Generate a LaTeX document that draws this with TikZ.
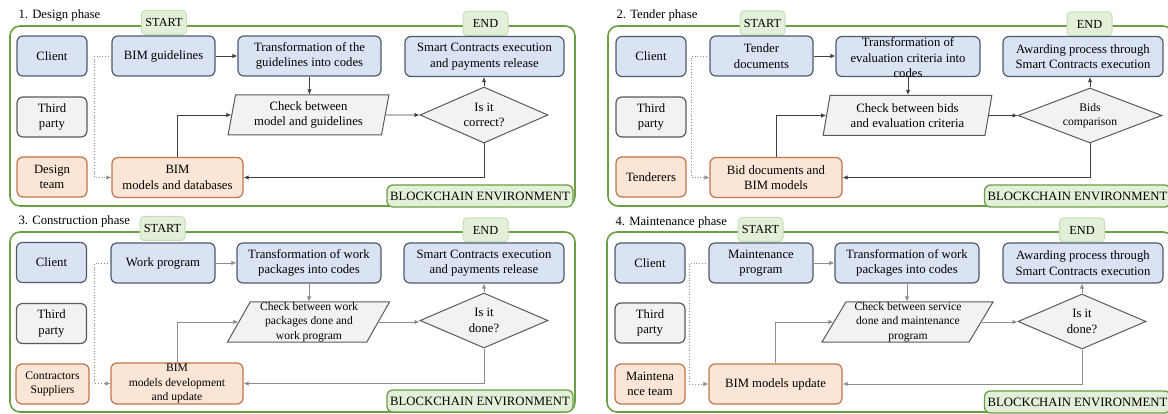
\documentclass[tikz,border=0pt]{standalone}
\usepackage{fontspec}
\setmainfont{Liberation Serif}
\usepackage{tikz}
\usetikzlibrary{arrows.meta,shapes.geometric}
\usepackage{xcolor}

\definecolor{bluefill}{HTML}{DAE3F3}
\definecolor{blueline}{HTML}{4F5A6B}
\definecolor{grayfill}{HTML}{F2F2F2}
\definecolor{grayline}{HTML}{5A5A5A}
\definecolor{orangefill}{HTML}{FBE5D6}
\definecolor{orangeline}{HTML}{C0754B}
\definecolor{framegreen}{HTML}{6B9E45}
\definecolor{tabfill}{HTML}{E2EFD9}
\definecolor{tabline}{HTML}{C5E0B4}
\definecolor{darkflow}{HTML}{404040}
\definecolor{paleflow}{HTML}{8C8C8C}

\begin{document}
\begin{tikzpicture}[x=1pt,y=-1pt,font=\fontsize{12.7}{15.5}\selectfont]
	 \tikzstyle{box}=[rectangle,rounded corners=6pt,line width=1.2pt,minimum height=40,inner sep=2pt,align=center]
	 \tikzstyle{role blue}=[box,fill=bluefill,draw=blueline,minimum width=70]
	 \tikzstyle{role gray}=[box,fill=grayfill,draw=grayline,minimum width=70]
	 \tikzstyle{role orange}=[box,fill=orangefill,draw=orangeline,minimum width=70]
	 \tikzstyle{task}=[box,fill=bluefill,draw=blueline]
	 \tikzstyle{model}=[box,fill=orangefill,draw=orangeline]
	 \tikzstyle{check}=[trapezium,trapezium left angle=79,trapezium right angle=101,trapezium stretches=true,draw=grayline,fill=grayfill,line width=1pt,minimum height=40,inner sep=1pt,align=center]
	 \tikzstyle{decision}=[diamond,aspect=2.3,draw=grayline,fill=grayfill,line width=1pt,inner sep=0pt,minimum width=128,minimum height=56,align=center]
	 \tikzstyle{tab}=[rectangle,rounded corners=4pt,fill=tabfill,draw=tabline,line width=1pt,minimum width=45,minimum height=24,inner sep=1pt,font=\fontsize{12.3}{14}\selectfont]
	 \tikzstyle{chain tab}=[rectangle,rounded corners=6pt,fill=tabfill,draw=framegreen,line width=1.3pt,minimum width=186,minimum height=22,inner sep=1pt]
	 \tikzstyle{frame}=[draw=framegreen,line width=1.6pt,rounded corners=10pt]
	 \tikzstyle{small}=[font=\fontsize{11.6}{14.5}\selectfont]
	 \tikzstyle{flow edge}=[draw=darkflow,line width=0.8pt,-{Latex[length=5pt,width=4.5pt]}]
	 \tikzstyle{pale edge}=[flow edge,draw=paleflow]
	 \tikzstyle{ref edge}=[draw=paleflow,line width=0.8pt,dotted,-{Latex[length=5pt,width=4.5pt]}]

	\useasboundingbox (0,0) rectangle (1168,414);

	% 1. Design phase
	\draw[frame] (10,26) rectangle (575,206);
	\node[anchor=west] (title1) at (15,15) {1. Design phase};
	\node[tab] (start1) at (164,22.5) {START};
	\node[tab] (end1) at (485.5,23.5) {END};
	\node[chain tab] (env1) at (480,196) {BLOCKCHAIN ENVIRONMENT};

	\node[role blue] (client1) at (52,56) {Client};
	\node[role gray] (third1) at (52,117) {Third\\party};
	\node[role orange] (team1) at (52,177) {Design\\team};
	\node[task,minimum width=103] (guide1) at (163.5,56) {BIM guidelines};
	\node[task,minimum width=143] (code1) at (309.5,56) {Transformation of the\\guidelines into codes};
	\node[task,minimum width=159] (pay1) at (484.5,56.5) {Smart Contracts execution\\and payments release};
	\node[check,minimum width=161] (check1) at (308.5,115) {Check between\\model and guidelines};
	\node[decision] (dec1) at (484,115) {Is it\\correct?};
	\node[model,minimum width=131] (bim1) at (177.5,177.5) {BIM\\models and databases};

	\draw[flow edge] (guide1) -- (code1);
	\draw[flow edge] (code1.south) -- (code1.south |- check1.north);
	\draw[flow edge] (check1.east) -- (dec1.west);
	\draw[flow edge] (dec1.north) -- (dec1.north |- pay1.south);
	\draw[flow edge] (dec1.south) |- (bim1.east);
	\draw[flow edge] (bim1.north) |- (check1.west);
	\draw[ref edge] (guide1.west) -- ++(-17,0) |- (bim1.west);

	% 2. Tender phase
	\draw[frame] (608,26) rectangle (1173,206);
	\node[anchor=west] (title2) at (613,15.5) {2. Tender phase};
	\node[tab] (start2) at (762.5,23) {START};
	\node[tab] (end2) at (1089.5,24) {END};
	\node[chain tab] (env2) at (1077.5,196) {BLOCKCHAIN ENVIRONMENT};

	\node[role blue] (client2) at (651,56.5) {Client};
	\node[role gray] (third2) at (651,117) {Third\\party};
	\node[role orange] (team2) at (651,177) {Tenderers};
	\node[task,minimum width=103] (guide2) at (761.5,56) {Tender\\documents};
	\node[task,minimum width=144] (code2) at (908,56.5) {};
	\node[align=center,inner sep=0pt] (code2text) at (908,58) {Transformation of\\evaluation criteria into\\codes};
	\node[task,minimum width=160] (pay2) at (1083,56.5) {Awarding process through\\Smart Contracts execution};
	\node[check,minimum width=169] (check2) at (907.5,115.5) {Check between bids\\and evaluation criteria};
	\node[decision,small,minimum width=144,minimum height=55] (dec2) at (1090,115.5) {Bids\\comparison};
	\node[model,minimum width=132] (bim2) at (776,177.5) {Bid documents and\\BIM models};

	\draw[flow edge] (guide2) -- (guide2 -| code2.west);
	\draw[flow edge] (code2.south) -- (code2.south |- check2.north);
	\draw[flow edge] (check2.east) -- (dec2.west);
	\draw[flow edge] (dec2.north) -- (dec2.north |- pay2.south);
	\draw[flow edge] (dec2.south) |- (bim2.east);
	\draw[flow edge] (bim2.north) |- (check2.west);
	\draw[ref edge] (guide2.west) -- ++(-18,0) |- (bim2.west);

	% 3. Construction phase
	\draw[frame] (10,232) rectangle (575,412);
	\node[anchor=west] (title3) at (15,221) {3. Construction phase};
	\node[tab] (start3) at (162.5,228.5) {START};
	\node[tab] (end3) at (485.5,230) {END};
	\node[chain tab] (env3) at (480,401) {BLOCKCHAIN ENVIRONMENT};

	\node[role blue] (client3) at (51.5,262.5) {Client};
	\node[role gray] (third3) at (51.5,323.5) {Third\\party};
	\node[role orange,small,minimum width=73] (team3) at (52.5,384) {Contractors\\Suppliers};
	\node[task,minimum width=104] (guide3) at (163,263) {Work program};
	\node[task,minimum width=144] (code3) at (309,263) {Transformation of work\\packages into codes};
	\node[task,minimum width=160] (pay3) at (484,263) {Smart Contracts execution\\and payments release};
	\node[check,minimum width=162] (check3) at (308.5,322) {};
	\node[small,align=center,inner sep=0pt] (check3text) at (309,322) {Check between work\\packages done and\\work program};
	\node[decision,minimum height=55] (dec3) at (484,320.5) {Is it\\done?};
	\node[model,minimum width=132,minimum height=41] (bim3) at (177,383.5) {};
	\node[small,align=center,inner sep=0pt] (bim3text) at (177,383.5) {BIM\\models development\\and update};

	\draw[pale edge] (guide3) -- (guide3 -| code3.west);
	\draw[pale edge] (code3.south) -- (code3.south |- check3.north);
	\draw[pale edge] (check3.east) -- (check3.east -| dec3.west);
	\draw[pale edge] (dec3.north) -- (dec3.north |- pay3.south);
	\draw[pale edge] (dec3.south) |- (bim3.east);
	\draw[pale edge] (bim3.north) |- (check3.west);
	\draw[ref edge] (guide3.west) -- ++(-16,0) |- (bim3.west);

	% 4. Maintenance phase
	\draw[frame] (607,232) rectangle (1173,412);
	\node[anchor=west] (title4) at (612,222) {4. Maintenance phase};
	\node[tab] (start4) at (760.5,229.5) {START};
	\node[tab] (end4) at (1082,230) {END};
	\node[chain tab] (env4) at (1077.5,402) {BLOCKCHAIN ENVIRONMENT};

	\node[role blue] (client4) at (650,263) {Client};
	\node[role gray] (third4) at (650,323) {Third\\party};
	\node[role orange] (team4) at (650,384) {Maintena\\nce team};
	\node[task,minimum width=104] (guide4) at (761,263) {Maintenance\\program};
	\node[task,minimum width=144] (code4) at (907,263) {Transformation of work\\packages into codes};
	\node[task,minimum width=160] (pay4) at (1083,263) {Awarding process through\\Smart Contracts execution};
	\node[check,minimum width=171] (check4) at (907.5,322) {};
	\node[small,align=center,inner sep=0pt] (check4text) at (908,322) {Check between service\\done and maintenance\\program};
	\node[decision,minimum height=55] (dec4) at (1082,321.5) {Is it\\done?};
	\node[model,minimum width=133] (bim4) at (775.5,384) {BIM models update};

	\draw[pale edge] (guide4) -- (guide4 -| code4.west);
	\draw[pale edge] (code4.south) -- (code4.south |- check4.north);
	\draw[pale edge] (check4.east) -- (check4.east -| dec4.west);
	\draw[pale edge] (dec4.north) -- (dec4.north |- pay4.south);
	\draw[pale edge] (dec4.south) |- (bim4.east);
	\draw[pale edge] (bim4.north) |- (check4.west);
	\draw[ref edge] (guide4.west) -- ++(-19,0) |- (bim4.west);
 \end{tikzpicture}
\end{document}
